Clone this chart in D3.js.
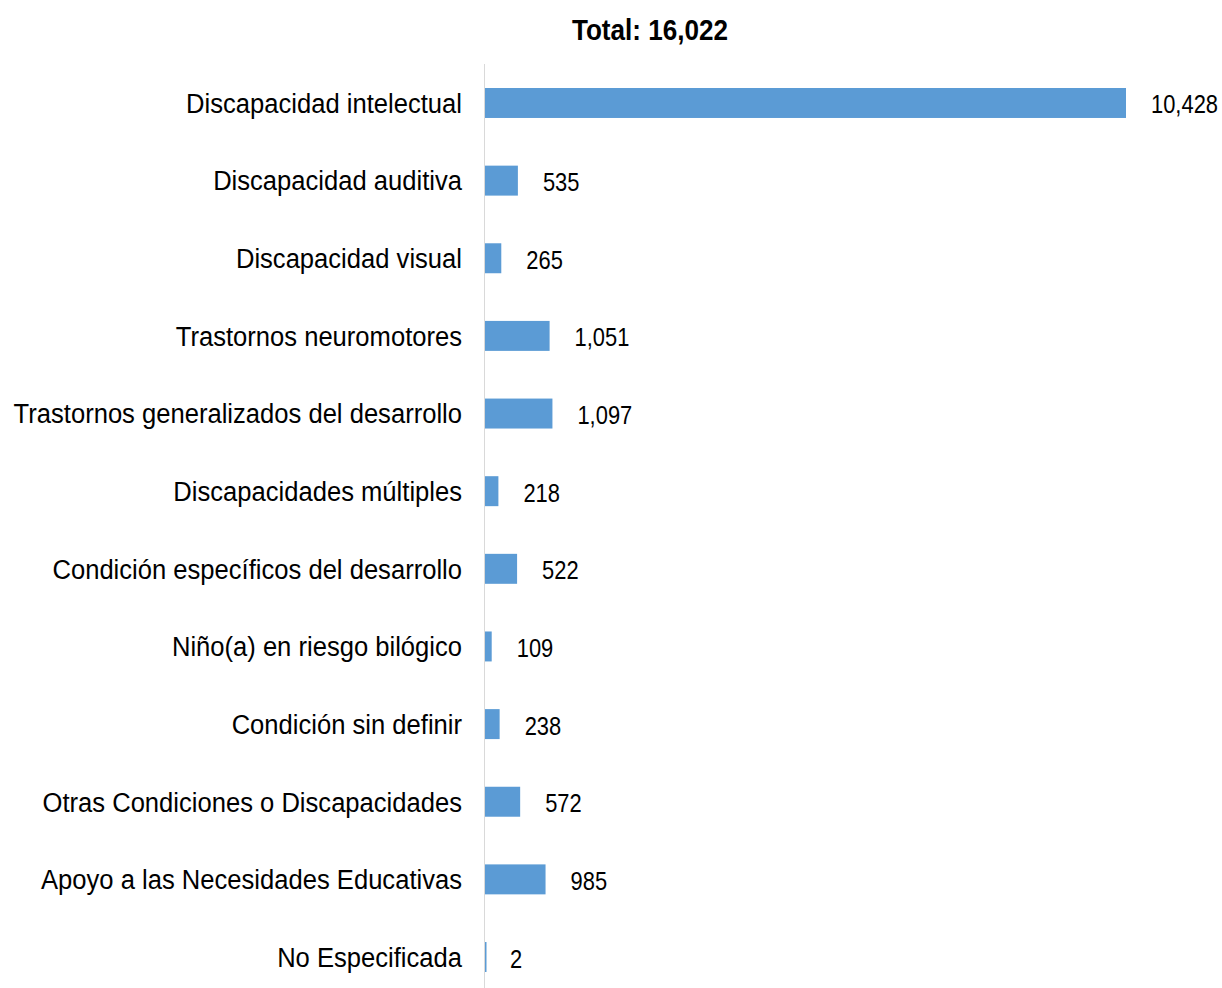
<!DOCTYPE html>
<html>
<head>
<meta charset="utf-8">
<script src="https://cdn.jsdelivr.net/npm/d3@7"></script>
<style>
  body { margin: 0; background: #fff; }
  text { font-family: "Liberation Sans", Arial, sans-serif; fill: #000; }
</style>
</head>
<body>
<svg width="1222" height="988"></svg>
<script>
// categories and values
const categories = [
	'Discapacidad intelectual',
	'Discapacidad auditiva',
	'Discapacidad visual',
	'Trastornos neuromotores',
	'Trastornos generalizados del desarrollo',
	'Discapacidades múltiples',
	'Condición específicos del desarrollo',
	'Niño(a) en riesgo bilógico',
	'Condición sin definir',
	'Otras Condiciones o Discapacidades',
	'Apoyo a las Necesidades Educativas',
	'No Especificada'
];
const values = [10428, 535, 265, 1051, 1097, 218, 522, 109, 238, 572, 985, 2];
const title = 'Total: 16,022';

var svg = d3.select('svg'),
	width = +svg.attr('width'),
	height = +svg.attr('height');

var x = d3.scaleLinear().domain([0, 10428]).range([485, 1126]);
var y = d3.scaleBand().domain(categories).range([88, 972]).paddingInner(0.614).paddingOuter(0);

// squeeze text horizontally to look like the narrow font of the original
function narrow(sel, px, py, k) {
	sel.attr('x', 0).attr('y', 0)
		.attr('transform', (d, i) => `translate(${px(d, i)},${py(d, i)}) scale(${k},1)`);
}

// title
svg.append('text')
	.attr('text-anchor', 'middle')
	.style('font-size', '29px')
	.style('font-weight', 'bold')
	.text(title)
	.call(narrow, () => 650, () => 40, 0.9);

// axis line
svg.append('line')
	.attr('x1', x(0) - 0.5).attr('x2', x(0) - 0.5)
	.attr('y1', 64).attr('y2', height)
	.attr('stroke', '#d9d9d9')
	.attr('stroke-width', 1);

var data = categories.map((c, i) => ({ cat: c, val: values[i] }));

// bars (tiny ones kept visible as a hairline)
svg.selectAll('.bar')
	.data(data)
	.enter()
	.append('rect')
	.attr('x', x(0))
	.attr('y', (d) => y(d.cat))
	.attr('width', (d) => Math.max(x(d.val) - x(0), 1.5))
	.attr('height', y.bandwidth())
	.attr('fill', '#5b9bd5');

// category labels
var cats = svg.selectAll('.cat')
	.data(data)
	.enter()
	.append('text')
	.attr('dy', '0.35em')
	.attr('text-anchor', 'end')
	.style('font-size', '28px')
	.text((d) => d.cat);
var w0 = cats.node().getComputedTextLength();
cats.call(narrow, () => 462, (d) => y(d.cat) + y.bandwidth() / 2, 276 / w0);

// value labels
var vals = svg.selectAll('.val')
	.data(data)
	.enter()
	.append('text')
	.attr('dy', '0.42em')
	.style('font-size', '25px')
	.text((d) => d3.format(',')(d.val));
var v0 = vals.node().getComputedTextLength();
vals.call(narrow, (d) => x(d.val) + 25, (d) => y(d.cat) + y.bandwidth() / 2, 67 / v0);
</script>
</body>
</html>
